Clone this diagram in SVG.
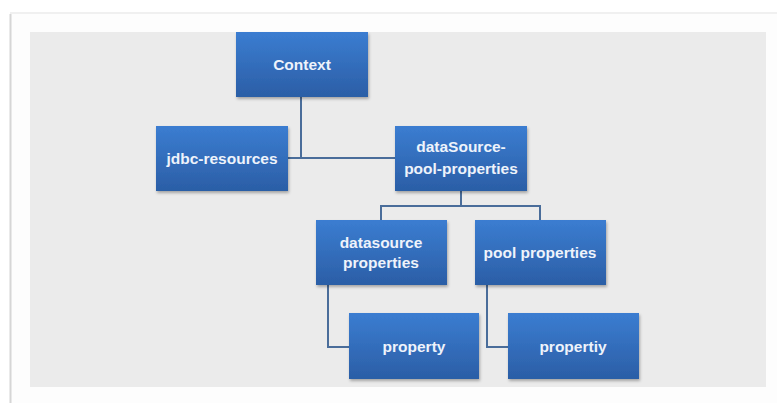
<svg xmlns="http://www.w3.org/2000/svg" width="777" height="403" viewBox="0 0 777 403">
<defs>
<linearGradient id="g" x1="0" y1="0" x2="0" y2="1">
<stop offset="0" stop-color="#3b7dd1"/>
<stop offset="1" stop-color="#2b5ea6"/>
</linearGradient>
<filter id="sh" x="-10%" y="-10%" width="125%" height="130%">
<feDropShadow dx="1" dy="2" stdDeviation="1.5" flood-color="#000" flood-opacity="0.3"/>
</filter>
</defs>
<style>
.box{fill:url(#g);filter:url(#sh)}
.t{font-family:"Liberation Sans",Arial,sans-serif;font-weight:bold;font-size:15.5px;fill:#eef3fb;text-anchor:middle}
.c{fill:none;stroke:#4a6d9a;stroke-width:2}
</style>
<rect x="0" y="0" width="777" height="403" fill="#ffffff"/>
<rect x="10" y="13" width="767" height="390" fill="#fdfdfd"/>
<line x1="10.5" y1="14" x2="10.5" y2="403" stroke="#d6d6d6" stroke-width="2"/>
<line x1="10" y1="13" x2="777" y2="13" stroke="#f0f0f0" stroke-width="2"/>
<rect x="30" y="32" width="736" height="355" fill="#ebebeb"/>
<g id="connectors">
<polyline class="c" points="301,97 301,158 288,158"/>
<line class="c" x1="301" y1="158" x2="395" y2="158"/>
<polyline class="c" points="461,191 461,206"/>
<polyline class="c" points="381,220 381,206 540,206 540,220"/>
<polyline class="c" points="328,285 328,347 349,347"/>
<polyline class="c" points="487,285 487,347 508,347"/>
</g>
<g id="context">
<rect class="box" x="236" y="32" width="132" height="65"/>
<text class="t" x="302" y="70">Context</text>
</g>
<g id="jdbc-resources">
<rect class="box" x="156" y="126" width="132" height="65"/>
<text class="t" x="222" y="164">jdbc-resources</text>
</g>
<g id="datasource-pool-properties">
<rect class="box" x="395" y="126" width="132" height="65"/>
<text class="t" x="461" y="152">dataSource-</text>
<text class="t" x="461" y="174">pool-properties</text>
</g>
<g id="datasource-properties">
<rect class="box" x="316" y="220" width="131" height="65"/>
<text class="t" x="381" y="248">datasource</text>
<text class="t" x="381" y="268">properties</text>
</g>
<g id="pool-properties">
<rect class="box" x="475" y="220" width="131" height="65"/>
<text class="t" x="540" y="258">pool properties</text>
</g>
<g id="property">
<rect class="box" x="349" y="313" width="130" height="66"/>
<text class="t" x="414" y="352">property</text>
</g>
<g id="propertiy">
<rect class="box" x="508" y="313" width="131" height="66"/>
<text class="t" x="573" y="352">propertiy</text>
</g>
</svg>
